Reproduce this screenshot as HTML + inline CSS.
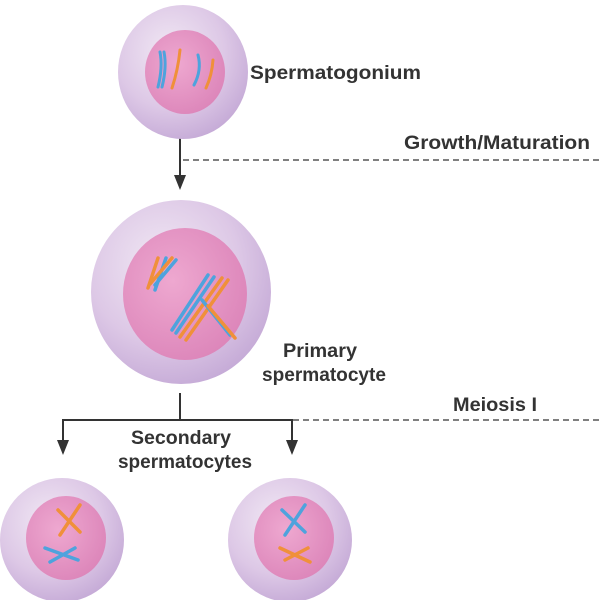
<!DOCTYPE html>
<html><head><style>
body{margin:0;background:#fff;}
svg text{font-family:"Liberation Sans",sans-serif;font-weight:bold;fill:#333;font-size:19px;}
</style></head><body>
<svg width="600" height="600" viewBox="0 0 600 600" xmlns="http://www.w3.org/2000/svg">
<defs>
<radialGradient id="cell" cx="0.4" cy="0.35" r="0.7">
<stop offset="0" stop-color="#f1e8f4"/><stop offset="0.6" stop-color="#ddc8e6"/><stop offset="1" stop-color="#c4a9d6"/>
</radialGradient>
<radialGradient id="nuc" cx="0.4" cy="0.4" r="0.7">
<stop offset="0" stop-color="#eea8d0"/><stop offset="1" stop-color="#db83b8"/>
</radialGradient>
</defs>
<g stroke="#333" stroke-width="2" fill="none">
<line x1="180" y1="138" x2="180" y2="178"/>
<path d="M174,175 L186,175 L180,190 Z" fill="#333" stroke="none"/>
<line x1="180" y1="393" x2="180" y2="420"/>
<line x1="62" y1="420" x2="293" y2="420"/>
<line x1="63" y1="420" x2="63" y2="442"/>
<line x1="292" y1="420" x2="292" y2="442"/>
<path d="M57,440 L69,440 L63,455 Z" fill="#333" stroke="none"/>
<path d="M286,440 L298,440 L292,455 Z" fill="#333" stroke="none"/>
</g>
<g stroke="#333" stroke-width="1.2" stroke-dasharray="6,4">
<line x1="183" y1="160" x2="600" y2="160"/>
<line x1="293" y1="420" x2="600" y2="420"/>
</g>
<ellipse cx="183" cy="72" rx="65" ry="67" fill="url(#cell)"/>
<ellipse cx="185" cy="72" rx="40" ry="42" fill="url(#nuc)"/>
<g stroke-width="3" stroke-linecap="round" fill="none">
<path d="M160,52 q3,15 -2,35" stroke="#4ea3dd"/><path d="M164,52 q3,15 -2,35" stroke="#4ea3dd"/>
<path d="M180,50 q-2,20 -8,38" stroke="#f0903a"/>
<path d="M198,55 q4,15 -4,30" stroke="#4ea3dd"/>
<path d="M213,60 q-1,15 -7,28" stroke="#f0903a"/>
</g>
<ellipse cx="181" cy="292" rx="90" ry="92" fill="url(#cell)"/>
<ellipse cx="185" cy="294" rx="62" ry="66" fill="url(#nuc)"/>
<g stroke-width="3.5" stroke-linecap="round" fill="none">
<path d="M158,258 L148,288" stroke="#f0903a"/><path d="M166,258 L155,290" stroke="#4ea3dd"/>
<path d="M176,260 L155,285" stroke="#4ea3dd"/><path d="M172,258 L150,284" stroke="#f0903a"/>
<path d="M208,275 L172,330" stroke="#4ea3dd"/><path d="M214,277 L176,333" stroke="#4ea3dd"/>
<path d="M222,278 L180,337" stroke="#f0903a"/><path d="M228,280 L186,340" stroke="#f0903a"/>
<path d="M202,300 L230,335" stroke="#4ea3dd"/><path d="M208,306 L235,338" stroke="#f0903a"/>
</g>
<ellipse cx="62" cy="540" rx="62" ry="62" fill="url(#cell)"/>
<ellipse cx="66" cy="538" rx="40" ry="42" fill="url(#nuc)"/>
<g stroke-width="3.5" stroke-linecap="round" fill="none">
<path d="M80,505 L60,535" stroke="#f0903a"/><path d="M58,510 L80,532" stroke="#f0903a"/>
<path d="M45,548 L78,560" stroke="#4ea3dd"/><path d="M50,562 L75,548" stroke="#4ea3dd"/>
</g>
<ellipse cx="290" cy="540" rx="62" ry="62" fill="url(#cell)"/>
<ellipse cx="294" cy="538" rx="40" ry="42" fill="url(#nuc)"/>
<g stroke-width="3.5" stroke-linecap="round" fill="none">
<path d="M305,505 L285,535" stroke="#4ea3dd"/><path d="M282,510 L305,532" stroke="#4ea3dd"/>
<path d="M280,548 L310,562" stroke="#f0903a"/><path d="M285,560 L308,548" stroke="#f0903a"/>
</g>
<text x="250" y="79" textLength="171" lengthAdjust="spacingAndGlyphs">Spermatogonium</text>
<text x="404" y="149" textLength="186" lengthAdjust="spacingAndGlyphs">Growth/Maturation</text>
<text x="283" y="357" textLength="74" lengthAdjust="spacingAndGlyphs">Primary</text>
<text x="262" y="381" textLength="124" lengthAdjust="spacingAndGlyphs">spermatocyte</text>
<text x="453" y="411" textLength="84" lengthAdjust="spacingAndGlyphs">Meiosis I</text>
<text x="131" y="444" textLength="100" lengthAdjust="spacingAndGlyphs">Secondary</text>
<text x="118" y="468" textLength="134" lengthAdjust="spacingAndGlyphs">spermatocytes</text>
</svg>
</body></html>
